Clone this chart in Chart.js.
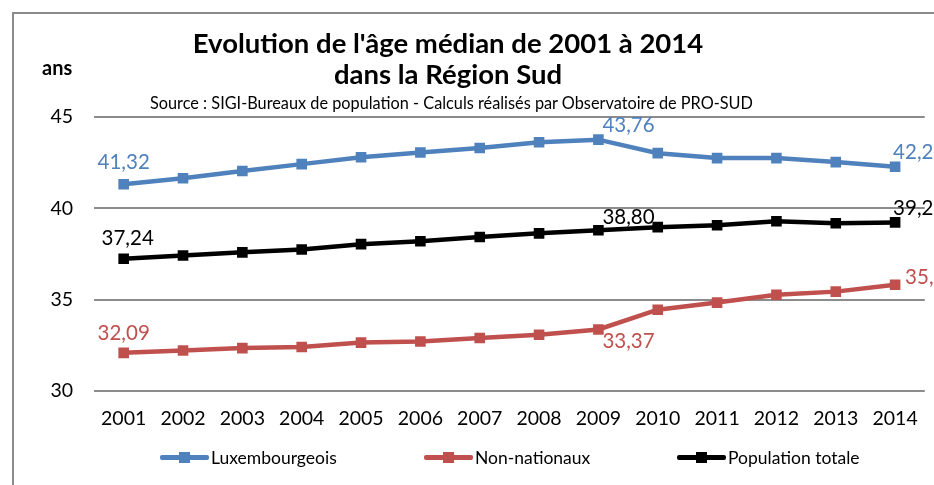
<!DOCTYPE html>
<html>
<head>
<meta charset="utf-8">
<script src="https://cdn.jsdelivr.net/npm/chart.js@4.4.1/dist/chart.umd.min.js"></script>
<style>
    html, body { margin: 0; padding: 0; background: #fff; }
    #wrap { position: relative; width: 934px; height: 485px; overflow: hidden; font-family: Lato, "Open Sans", sans-serif; }
    #frame { position: absolute; left: 12px; top: 12px; width: 1000px; height: 600px; border-left: 2px solid #8c8c8c; border-top: 2px solid #8c8c8c; }
    #chart { position: absolute; left: 0; top: 0; }
    .txt { position: absolute; white-space: nowrap; color: #000; }
    #title1, #title2 { font-weight: bold; font-size: 27.5px; left: 0; width: 896px; text-align: center; }
    #title1 { top: 26px; }
    #title2 { top: 57px; }
    #source { top: 93px; left: 150px; font-size: 16.3px; }
    #unit { top: 55px; left: 42px; font-size: 20px; font-weight: bold; }
    #legend { position: absolute; top: 446px; left: 0; width: 934px; height: 26px; }
    .leg { position: absolute; display: flex; align-items: center; font-size: 17.5px; }
    .leg .sample { position: relative; width: 49px; height: 22px; margin-right: 2px; }
    .leg .sample .ln { position: absolute; left: 0; right: 0; top: 9px; height: 5px; border-radius: 2px; }
    .leg .sample .sq { position: absolute; left: 19px; top: 6px; width: 11px; height: 11px; }
</style>
</head>
<body>
<div id="wrap">
    <div id="frame"></div>
    <canvas id="chart" width="934" height="485"></canvas>
    <div class="txt" id="title1">Evolution de l'âge médian de 2001 à 2014</div>
    <div class="txt" id="title2">dans la Région Sud</div>
    <div class="txt" id="source">Source : SIGI-Bureaux de population - Calculs réalisés par Observatoire de PRO-SUD</div>
    <div class="txt" id="unit">ans</div>
    <div id="legend"></div>
</div>
<script>
// Median age by year, three populations
const years = ['2001', '2002', '2003', '2004', '2005', '2006', '2007', '2008', '2009', '2010', '2011', '2012', '2013', '2014'];
const luxembourgeois = [41.32, 41.65, 42.04, 42.42, 42.80, 43.06, 43.30, 43.62, 43.76, 43.02, 42.75, 42.75, 42.53, 42.28];
const nonNationaux = [32.09, 32.22, 32.35, 32.41, 32.65, 32.71, 32.90, 33.08, 33.37, 34.45, 34.84, 35.27, 35.44, 35.82];
const populationTotale = [37.24, 37.42, 37.59, 37.75, 38.04, 38.20, 38.43, 38.63, 38.80, 38.97, 39.07, 39.29, 39.18, 39.23];
const yTicks = [30, 35, 40, 45];

const BLUE = '#4f81bd';
const RED = '#c0504d';
const BLACK = '#000000';

const FONT = 'Lato, "Open Sans", sans-serif';

// value labels shown on a few points: index -> [dx, dy, align]
const labelSpots = [
    { 0: [0, -22, 'center'], 8: [4, -14, 'left'], 13: [-2, -14, 'left'] },
    { 0: [0, -19, 'center'], 8: [4, 12, 'left'], 13: [10, -7, 'left'] },
    { 0: [4, -20, 'center'], 8: [4, -13, 'left'], 13: [-2, -14, 'left'] }
];

const fmt = v => v.toFixed(2).replace('.', ',');

const valueLabels = {
    id: 'valueLabels',
    afterDatasetsDraw(chart) {
        const ctx = chart.ctx;
        ctx.save();
        ctx.font = '20.5px ' + FONT;
        ctx.textBaseline = 'middle';
        chart.data.datasets.forEach((ds, di) => {
            const meta = chart.getDatasetMeta(di);
            const spots = labelSpots[di];
            Object.keys(spots).forEach(k => {
                const i = Number(k);
                const pt = meta.data[i];
                const [dx, dy, align] = spots[k];
                ctx.fillStyle = ds.borderColor;
                ctx.textAlign = align;
                ctx.fillText(fmt(ds.data[i]), pt.x + dx, pt.y + dy);
            });
        });
        ctx.restore();
    }
};

function series(label, data, color) {
    return {
        label: label,
        data: data,
        borderColor: color,
        backgroundColor: color,
        borderWidth: 4.5,
        tension: 0,
        pointStyle: 'rect',
        pointRadius: 7.5,
        pointBorderWidth: 0,
        pointBackgroundColor: color,
        fill: false
    };
}

const chart = new Chart(document.getElementById('chart'), {
    type: 'line',
    data: {
        labels: years,
        datasets: [
            series('Luxembourgeois', luxembourgeois, BLUE),
            series('Non-nationaux', nonNationaux, RED),
            series('Population totale', populationTotale, BLACK)
        ]
    },
    options: {
        responsive: false,
        animation: false,
        layout: { padding: { top: 117, right: 7, left: 0, bottom: 0 } },
        scales: {
            x: {
                offset: true,
                grid: { display: false, drawTicks: false },
                border: { display: false },
                ticks: { color: '#000', font: { family: FONT, size: 19.5 }, padding: 16, maxRotation: 0, autoSkip: false },
                afterFit: s => { s.height = 94; }
            },
            y: {
                min: 30,
                max: 45,
                afterBuildTicks: s => { s.ticks = yTicks.map(v => ({ value: v })); },
                grid: { color: '#8c8c8c', lineWidth: 2, drawTicks: false },
                border: { display: false },
                ticks: { color: '#000', font: { family: FONT, size: 19.5 }, padding: 21 },
                afterFit: s => { s.width = 94; }
            }
        },
        plugins: {
            legend: { display: false },
            tooltip: { enabled: false }
        }
    },
    plugins: [valueLabels]
});

// legend built from the datasets
const legendLeft = [160, 424, 677];
const legendEl = document.getElementById('legend');
chart.data.datasets.forEach((ds, i) => {
    const item = document.createElement('div');
    item.className = 'leg';
    item.style.left = legendLeft[i] + 'px';
    item.innerHTML = '<div class="sample"><div class="ln" style="background:' + ds.borderColor +
        '"></div><div class="sq" style="background:' + ds.borderColor + '"></div></div><span>' + ds.label + '</span>';
    legendEl.appendChild(item);
});
</script>
</body>
</html>
